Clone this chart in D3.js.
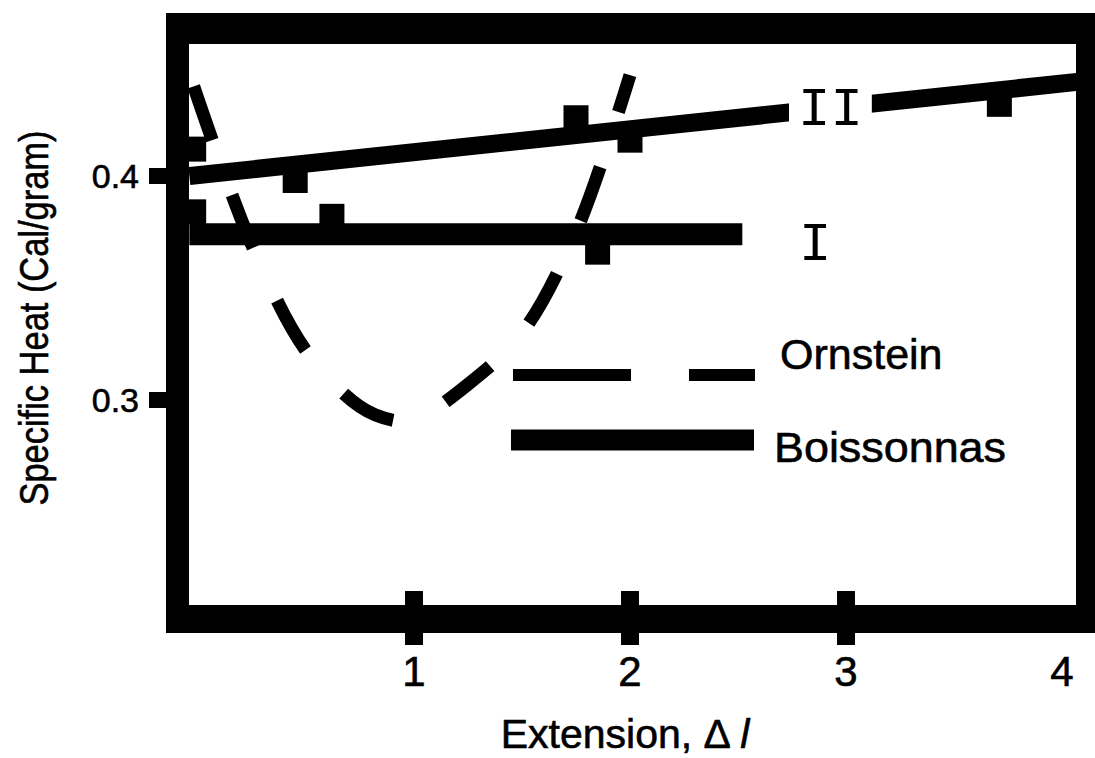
<!DOCTYPE html>
<html>
<head>
<meta charset="utf-8">
<script src="https://cdn.jsdelivr.net/npm/d3@7"></script>
<style>
  body { margin: 0; background: #fff; }
  text { font-family: "Liberation Sans", Arial, sans-serif; fill: #000; stroke: #000; stroke-width: 0.6px; }
</style>
</head>
<body>
<svg id="chart" width="1095" height="758"></svg>
<script>
// ---- data ----
const xTickValues = [1, 2, 3, 4];
const xTickMarks = [1, 2, 3];
const yTickValues = [0.3, 0.4];

// Ornstein (dashed curve)
const ornsteinX = [-0.02, 0.25, 0.5, 0.75, 0.9, 1.0, 1.25, 1.5, 1.75, 2.0];
const ornsteinY = [0.440, 0.369, 0.322, 0.297, 0.291, 0.291, 0.307, 0.330, 0.375, 0.445];

// Boissonnas measurements (squares)
const pointsX = [-0.02, 0.45, -0.02, 0.62, 1.75, 2.0, 1.85, 3.71];
const pointsY = [0.412, 0.398, 0.384, 0.382, 0.426, 0.416, 0.366, 0.432];

// Boissonnas fit lines
const lineIIX = [-0.04, 4.07];
const lineIIY = [0.400, 0.442];
const lineIX = [-0.04, 2.52];
const lineIY = [0.374, 0.374];

const svg = d3.select("#chart");

const x = d3.scaleLinear().domain([0, 4]).range([198, 1062]);
const y = d3.scaleLinear().domain([0.3, 0.4]).range([400, 176]);

const inner = { left: 189, right: 1076, top: 44, bottom: 605 };

const plot = svg.append("g");
svg.append("clipPath").attr("id", "clip")
  .append("rect")
  .attr("x", inner.left).attr("y", inner.top)
  .attr("width", inner.right - inner.left).attr("height", inner.bottom - inner.top);

const body = plot.append("g").attr("clip-path", "url(#clip)");

const line = d3.line().x(d => x(d[0])).y(d => y(d[1]));

// fit lines
body.append("path")
  .attr("d", line(d3.zip(lineIIX, lineIIY)))
  .attr("stroke", "#000").attr("stroke-width", 18).attr("fill", "none");
body.append("path")
  .attr("d", line(d3.zip(lineIX, lineIY)))
  .attr("stroke", "#000").attr("stroke-width", 22).attr("fill", "none");

// squares
const sq = 25;
body.selectAll("rect.pt")
  .data(d3.zip(pointsX, pointsY))
  .join("rect")
  .attr("class", "pt")
  .attr("x", d => x(d[0]) - sq / 2)
  .attr("y", d => y(d[1]) - sq / 2)
  .attr("width", sq).attr("height", sq)
  .attr("fill", "#000");

// ornstein dashed curve
body.append("path")
  .attr("d", d3.line().x(d => x(d[0])).y(d => y(d[1])).curve(d3.curveCatmullRom)(d3.zip(ornsteinX, ornsteinY)))
  .attr("stroke", "#000").attr("stroke-width", 13).attr("fill", "none")
  .attr("stroke-dasharray", "57 58");

// line labels
const lblII = plot.append("text")
  .attr("x", 798).attr("y", 125)
  .style("font-family", "'Liberation Mono', monospace")
  .style("font-size", "54px")
  .style("stroke-width", "0px")
  .text("II");
const bb = lblII.node().getBBox();
plot.insert("rect", "text")
  .attr("x", bb.x - 9).attr("y", bb.y)
  .attr("width", bb.width + 18).attr("height", bb.height)
  .attr("fill", "#fff");
plot.append("text")
  .attr("x", 799).attr("y", 260)
  .style("font-family", "'Liberation Mono', monospace")
  .style("font-size", "54px")
  .style("stroke-width", "0px")
  .text("I");

// legend
const legend = plot.append("g");
legend.append("line").attr("x1", 513).attr("x2", 631).attr("y1", 375).attr("y2", 375)
  .attr("stroke", "#000").attr("stroke-width", 12);
legend.append("line").attr("x1", 689).attr("x2", 755).attr("y1", 375).attr("y2", 375)
  .attr("stroke", "#000").attr("stroke-width", 12);
legend.append("line").attr("x1", 511).attr("x2", 754).attr("y1", 440).attr("y2", 440)
  .attr("stroke", "#000").attr("stroke-width", 21);
legend.append("text").attr("x", 780).attr("y", 369).style("font-size", "43px").text("Ornstein");
legend.append("text").attr("x", 774).attr("y", 462)
  .attr("textLength", 232).attr("lengthAdjust", "spacingAndGlyphs")
  .style("font-size", "43px").text("Boissonnas");

// frame
plot.append("path")
  .attr("d", `M166,13H1100V633H166Z M${inner.left},${inner.top}V${inner.bottom}H${inner.right}V${inner.top}Z`)
  .attr("fill", "#000").attr("fill-rule", "evenodd");

// x ticks
plot.selectAll("rect.xt")
  .data(xTickMarks)
  .join("rect")
  .attr("class", "xt")
  .attr("x", d => x(d) - 9).attr("y", 591)
  .attr("width", 18).attr("height", 54)
  .attr("fill", "#000");
plot.selectAll("text.xl")
  .data(xTickValues)
  .join("text")
  .attr("class", "xl")
  .attr("x", d => x(d)).attr("y", 686)
  .attr("text-anchor", "middle")
  .style("font-size", "42px")
  .text(d => d3.format("d")(d));

// y ticks
plot.selectAll("rect.yt")
  .data(yTickValues)
  .join("rect")
  .attr("class", "yt")
  .attr("x", 149).attr("y", d => y(d) - 8)
  .attr("width", 20).attr("height", 16)
  .attr("fill", "#000");
plot.selectAll("text.yl")
  .data(yTickValues)
  .join("text")
  .attr("class", "yl")
  .attr("x", 139).attr("y", d => y(d) + 12)
  .attr("text-anchor", "end")
  .style("font-size", "34px")
  .text(d => d3.format(".1f")(d));

// axis titles
plot.append("text")
  .attr("transform", "translate(48,318) rotate(-90)")
  .attr("text-anchor", "middle")
  .attr("textLength", 375).attr("lengthAdjust", "spacingAndGlyphs")
  .style("font-size", "41px")
  .text("Specific Heat (Cal/gram)");

const xt = plot.append("text")
  .attr("x", 625).attr("y", 748)
  .attr("text-anchor", "middle")
  .style("font-size", "41px")
  .text("Extension, \u0394 ");
xt.append("tspan").style("font-style", "italic").text("l");
</script>
</body>
</html>
